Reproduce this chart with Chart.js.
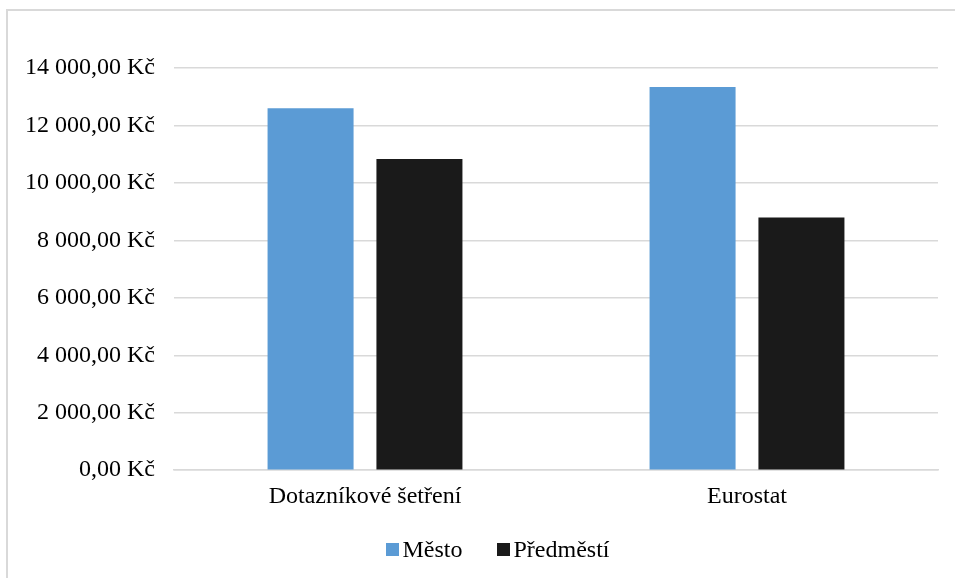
<!DOCTYPE html>
<html lang="cs">
<head>
<meta charset="utf-8">
<script src="https://cdn.jsdelivr.net/npm/chart.js@4"></script>
<style>
  html, body { margin: 0; padding: 0; background: #fff; overflow: hidden; }
  #wrap { position: relative; width: 955px; height: 578px;
          font-family: "Liberation Serif", "Times New Roman", serif; }
  #frame { position: absolute; left: 6px; top: 9px; width: 1000px; height: 700px;
           border-left: 2px solid #d9d9d9; border-top: 2px solid #d9d9d9; pointer-events: none; }
  canvas { position: absolute; left: 0; top: 0; }
  #legend { position: absolute; left: 0; top: 535px; width: 955px; height: 28px;
            display: flex; justify-content: center; align-items: center;
            font-size: 24px; line-height: 28px; color: #000; padding-left: 40px; box-sizing: border-box; }
  #legend .item { display: flex; align-items: center; margin: 0 17px; }
  #legend .box { width: 13px; height: 13px; margin-right: 4px; }
</style>
</head>
<body>
<div id="wrap">
  <canvas id="c" width="955" height="578"></canvas>
  <div id="legend"></div>
  <div id="frame"></div>
</div>
<script>
// Average amounts by data source
const categories = ['Dotazníkové šetření', 'Eurostat'];
const mesto = [12600, 13340];
const predmesti = [10830, 8800];
const yTicks = [0, 2000, 4000, 6000, 8000, 10000, 12000, 14000];

const fmt = v => {
  const s = v.toFixed(2).split('.');
  const int = s[0].replace(/\B(?=(\d{3})+(?!\d))/g, ' ');
  return int + ',' + s[1] + ' Kč';
};

const font = { family: '"Liberation Serif", "Times New Roman", serif', size: 24 };
const grid = '#d9d9d9';

const chart = new Chart(document.getElementById('c'), {
  type: 'bar',
  data: {
    labels: categories,
    datasets: [
      { label: 'Město', data: mesto, backgroundColor: '#5b9bd5',
        categoryPercentage: 0.57, barPercentage: 0.79 },
      { label: 'Předměstí', data: predmesti, backgroundColor: '#1a1a1a',
        categoryPercentage: 0.57, barPercentage: 0.79 }
    ]
  },
  options: {
    responsive: false,
    animation: false,
    layout: { padding: { left: 0, right: 17, top: 68, bottom: 55 } },
    plugins: {
      tooltip: { enabled: false },
      legend: { display: false }
    },
    scales: {
      x: {
        grid: { display: false, drawTicks: false },
        border: { color: grid, width: 1.5 },
        ticks: { font: font, color: '#000', padding: 12 }
      },
      y: {
        min: 0, max: 14000,
        afterBuildTicks: axis => { axis.ticks = yTicks.map(v => ({ value: v })); },
        afterFit: axis => { axis.width = 174; },
        grid: { color: grid, lineWidth: 1.5, drawTicks: false },
        border: { display: false },
        ticks: { font: font, color: '#000', padding: 19, callback: v => fmt(v) }
      }
    }
  }
});

// Legend built from the chart's own datasets
const legend = document.getElementById('legend');
chart.data.datasets.forEach(ds => {
  const item = document.createElement('div');
  item.className = 'item';
  const box = document.createElement('span');
  box.className = 'box';
  box.style.background = ds.backgroundColor;
  const txt = document.createElement('span');
  txt.textContent = ds.label;
  item.appendChild(box);
  item.appendChild(txt);
  legend.appendChild(item);
});
</script>
</body>
</html>
